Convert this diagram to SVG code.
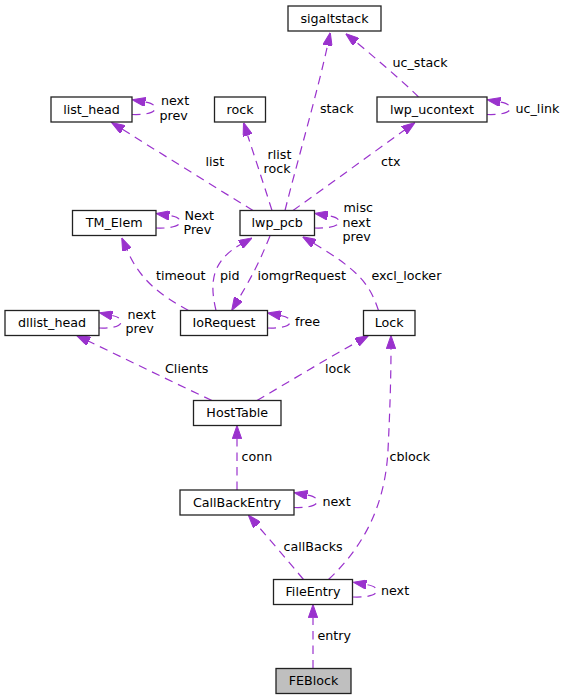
<svg xmlns="http://www.w3.org/2000/svg" width="567" height="700" viewBox="0 0 567 700">
<style>
.n rect{fill:#fff;stroke:#222;stroke-width:1.3}
.n text{font-family:"DejaVu Sans",sans-serif;font-size:12.7px;fill:#000;text-anchor:middle}
.e path{fill:none;stroke:#9a32cd;stroke-width:1.2;stroke-dasharray:8.5,6;marker-end:url(#ah)}
.l{font-family:"DejaVu Sans",sans-serif;font-size:12.7px;fill:#000}
</style>
<defs>
<marker id="ah" markerUnits="userSpaceOnUse" viewBox="0 0 13.3 9.4" refX="0" refY="4.7" markerWidth="13.3" markerHeight="9.4" orient="auto">
<path d="M0,0 L13.3,4.7 L0,9.4 z" fill="#9a32cd" stroke="#9a32cd" stroke-width="1"/>
</marker>
</defs>
<rect width="567" height="700" fill="#fff"/>
<g id="edges" class="e">
<path d="M285,210.5 C295,170 318,90 327.5,45.5"/>
<path d="M418.5,97 C408,86 372,55 356,42"/>
<path d="M253,210.5 C210,184 165,156 122.8,129.5"/>
<path d="M272,210.5 C263,182 255,158 247.6,135.2"/>
<path d="M293,210.5 C330,184 370,155 404.2,130.3"/>
<path d="M188.5,310.5 C160,295 140,280 127,250"/>
<path d="M216,310.5 C210,285 210,262 240.5,244.5"/>
<path d="M270,236 C262,255 257,268 238.5,299"/>
<path d="M378.5,310.5 C370,285 360,271 314,243.5"/>
<path d="M212,400.5 C170,381 130,361 88.7,341.3"/>
<path d="M257,400.5 C290,381 325,360 356.8,342.2"/>
<path d="M237,490 L237,438.8"/>
<path d="M303.5,579.5 C288,561 272,542 257.1,525.1"/>
<path d="M328.5,579.5 C360,550 385,510 388,450 C390,410 391,375 391,348.8"/>
<path d="M313,668.5 L313,617.8"/>
<path d="M132,114.5 C140,115 155,114 155,108.5 C155,104.5 151,103 145.3,102"/>
<path d="M487,114.5 C495,115 510,114 510,108.5 C510,104.5 506,103 500.3,102"/>
<path d="M156,228 C164,228.5 180,227.5 180,222 C180,218 176,216.5 169.3,215.5"/>
<path d="M314.5,228 C322,228.5 339,227.5 339,222 C339,218 334,216.5 327.8,215.5"/>
<path d="M99,328 C107,328.5 121,327.5 121,322 C121,318 117,316.5 112.3,315.5"/>
<path d="M267.5,328 C275,328.5 290,327.5 290,322 C290,318 286,316.5 280.8,315.5"/>
<path d="M294,507.5 C302,508 317,507 317,501.5 C317,497.5 313,496 307.3,495"/>
<path d="M353,597 C361,597.5 376.5,596.5 376.5,591 C376.5,587 372,585.5 366.3,584.5"/>
</g>
<g id="labels">
<text class="l" x="320" y="113">stack</text>
<text class="l" x="392.5" y="67">uc_stack</text>
<text class="l" x="515.5" y="113">uc_link</text>
<text class="l" x="161" y="105">next</text>
<text class="l" x="159.5" y="120">prev</text>
<text class="l" x="205.5" y="166">list</text>
<text class="l" x="267.5" y="159">rlist</text>
<text class="l" x="263.5" y="173">rock</text>
<text class="l" x="381" y="166">ctx</text>
<text class="l" x="343.5" y="212">misc</text>
<text class="l" x="342.5" y="226.5">next</text>
<text class="l" x="342.5" y="241">prev</text>
<text class="l" x="184.5" y="219.5">Next</text>
<text class="l" x="183.5" y="234">Prev</text>
<text class="l" x="156" y="279.5">timeout</text>
<text class="l" x="220" y="279.5">pid</text>
<text class="l" x="257.5" y="279.5">iomgrRequest</text>
<text class="l" x="371.5" y="279.5">excl_locker</text>
<text class="l" x="127.5" y="319">next</text>
<text class="l" x="125.5" y="333">prev</text>
<text class="l" x="295" y="326">free</text>
<text class="l" x="165" y="372.5">Clients</text>
<text class="l" x="325" y="372.5">lock</text>
<text class="l" x="241.5" y="461">conn</text>
<text class="l" x="389.5" y="461">cblock</text>
<text class="l" x="322.5" y="506">next</text>
<text class="l" x="283.5" y="551">callBacks</text>
<text class="l" x="381" y="595">next</text>
<text class="l" x="317.5" y="640">entry</text>
</g>
<g id="sigaltstack" class="n"><rect x="288" y="6" width="93" height="25"/><text x="334.5" y="22.8">sigaltstack</text></g>
<g id="list_head" class="n"><rect x="51" y="97" width="81" height="25"/><text x="91.5" y="113.8">list_head</text></g>
<g id="rock" class="n"><rect x="214.5" y="97" width="51" height="25"/><text x="240" y="113.8">rock</text></g>
<g id="lwp_ucontext" class="n"><rect x="377" y="97" width="110" height="25"/><text x="432" y="113.8">lwp_ucontext</text></g>
<g id="TM_Elem" class="n"><rect x="72.5" y="210.5" width="83.5" height="25"/><text x="114.2" y="227.3">TM_Elem</text></g>
<g id="lwp_pcb" class="n"><rect x="240" y="210.5" width="74.5" height="25"/><text x="277.2" y="227.3">lwp_pcb</text></g>
<g id="dllist_head" class="n"><rect x="5" y="310.5" width="94" height="25"/><text x="52" y="327.3">dllist_head</text></g>
<g id="IoRequest" class="n"><rect x="180.5" y="310.5" width="87" height="25"/><text x="224" y="327.3">IoRequest</text></g>
<g id="Lock" class="n"><rect x="363.5" y="310.5" width="51.5" height="25"/><text x="389.2" y="327.3">Lock</text></g>
<g id="HostTable" class="n"><rect x="193.5" y="400.5" width="87.5" height="25"/><text x="237.2" y="417.3">HostTable</text></g>
<g id="CallBackEntry" class="n"><rect x="180" y="490" width="114" height="25"/><text x="237" y="506.8">CallBackEntry</text></g>
<g id="FileEntry" class="n"><rect x="273.5" y="579.5" width="79" height="25"/><text x="313" y="596.3">FileEntry</text></g>
<g id="FEBlock" class="n"><rect x="276" y="668.5" width="75" height="25" style="fill:#bfbfbf"/><text x="313.5" y="685.3">FEBlock</text></g>
</svg>
